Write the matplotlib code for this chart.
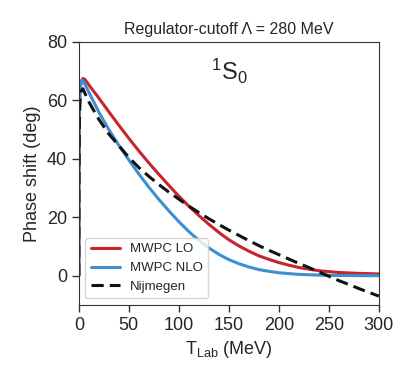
import numpy as np
import matplotlib
matplotlib.use('Agg')
import matplotlib.pyplot as plt
import seaborn as sns

# phase shifts (T_lab in MeV, delta in deg)
t_lo = [0, 0.1, 0.5, 1, 2, 4, 6, 10, 20, 30, 40, 50, 60, 70, 80, 90, 100,
        110, 120, 130, 140, 150, 160, 170, 180, 190, 200, 210, 220, 240,
        260, 280, 300]
d_lo = [0, 35, 55, 62, 66, 67.5, 67.2, 65.3, 60.8, 56.1, 51.5, 47.0, 42.7,
        38.6, 34.7, 30.9, 27.2, 23.8, 20.6, 17.6, 14.8, 12.3, 10.2, 8.4, 6.8,
        5.6, 4.5, 3.6, 2.8, 1.7, 1.1, 0.8, 0.6]

t_nlo = [0, 0.1, 0.5, 1, 2, 3, 5, 10, 20, 30, 40, 50, 60, 70, 80, 90, 100,
         110, 120, 130, 140, 150, 160, 170, 180, 190, 200, 220, 240, 260,
         280, 300]
d_nlo = [0, 35, 55, 62, 66, 67, 66.2, 62.8, 56, 50, 44.6, 39.6, 34.8, 30.3,
         26.1, 22.2, 18.5, 15.1, 12.1, 9.5, 7.3, 5.5, 4.1, 3.0, 2.1, 1.5, 1.0,
         0.45, 0.2, 0.08, 0.03, 0]

t_nij = [0, 0.1, 0.5, 1, 2, 4, 6, 10, 20, 30, 40, 50, 60, 70, 80, 90, 100,
         110, 120, 130, 140, 150, 160, 170, 180, 190, 200, 210, 220, 230,
         240, 250, 260, 270, 280, 290, 300]
d_nij = [0, 30, 52, 59, 63, 64, 62.5, 59.5, 53.5, 48.5, 44.5, 40.5, 37, 34,
         31.2, 28.6, 26.2, 23.8, 21.6, 19.5, 17.5, 15.6, 13.8, 12.0, 10.3,
         8.7, 7.2, 5.7, 4.2, 2.8, 1.3, -0.2, -1.7, -3.0, -4.4, -5.7, -7.0]

sns.set_style('ticks')
plt.rcParams['font.family'] = ['Liberation Sans', 'DejaVu Sans']
plt.rcParams['mathtext.fontset'] = 'custom'
plt.rcParams['mathtext.rm'] = 'Liberation Sans'
plt.rcParams['mathtext.it'] = 'Liberation Sans:italic'

fig = plt.figure(figsize=(4.15, 3.85), dpi=100)
ax = fig.add_axes([0.190, 0.208, 0.723, 0.683])

ax.plot(t_lo, d_lo, color='#c8242e', lw=2.2, label='MWPC LO')
ax.plot(t_nlo, d_nlo, color='#3d8fd1', lw=2.2, label='MWPC NLO')
ax.plot(t_nij, d_nij, color='#111111', lw=2.2, ls=(0, (4, 2)), label='Nijmegen')

ax.set_xlim(0, 300)
ax.set_ylim(-10, 80)
ax.set_xticks([0, 50, 100, 150, 200, 250, 300])
ax.set_yticks([0, 20, 40, 60, 80])
ax.tick_params(labelsize=13, length=5, width=1, color='#333333')
for s in ax.spines.values():
    s.set_color('#333333')

ax.set_xlabel(r'T$_{\mathrm{Lab}}$ (MeV)', fontsize=13)
ax.set_ylabel('Phase shift (deg)', fontsize=13)
ax.set_title('Regulator-cutoff \u039b = 280 MeV', fontsize=11.5)
ax.text(150, 70, r'$^{1}$S$_{0}$', fontsize=17, ha='center', va='center')

ax.legend(loc='lower left', fontsize=9.5, frameon=True, handlelength=2.2)

fig.savefig('out.png', dpi=100)
